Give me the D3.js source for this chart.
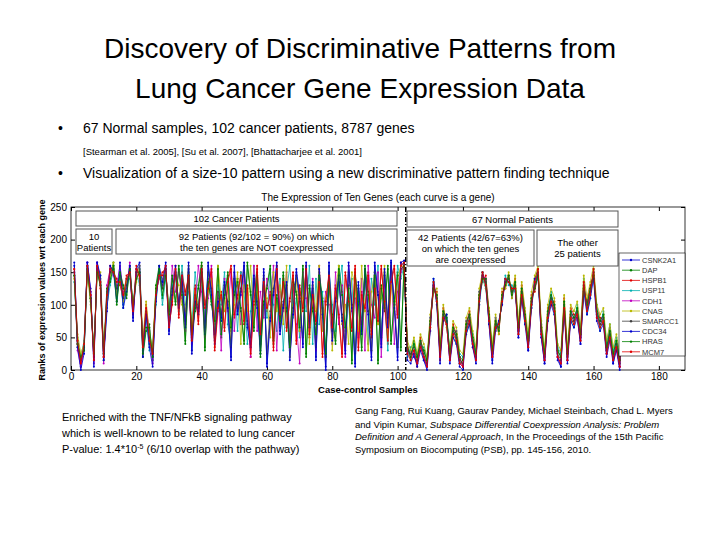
<!DOCTYPE html>
<html><head><meta charset="utf-8">
<script src="https://cdn.jsdelivr.net/npm/d3@7"></script>
<style>body{margin:0;background:#fff}svg{font-family:Arial,"Liberation Sans",sans-serif}</style>
</head><body><svg id="slide" width="720" height="540"></svg>
<script>
// gene names and colours (matlab default cycle)
let genes = ["CSNK2A1","DAP","HSPB1","USP11","CDH1","CNAS","SMARCC1","CDC34","HRAS","MCM7"];
let colors = ["#0000cc","#008000","#e00000","#00b0b0","#c000c0","#b8b800","#404040","#0000cc","#008000","#e00000"];
let xTicks = [0,20,40,60,80,100,120,140,160,180];
let yTicks = [0,50,100,150,200,250];

// ranks on cancer samples 1..102
let cancer1 = [160,45,5,40,165,120,15,165,140,25,95,150,160,120,140,100,130,155,80,150,160,30,90,40,20,110,150,130,160,60,120,150,100,140,70,160,30,110,90,150,60,160,120,45,110,80,130,100,20,150,90,120,160,70,40,140,100,30,150,10,80,120,160,60,100,130,20,90,150,110,40,160,70,130,20,150,90,5,160,50,110,140,80,30,160,100,10,130,60,150,90,20,160,120,40,150,70,165,100,20,160,165];
let cancer2 = [145,35,15,30,160,110,25,155,130,15,120,140,165,100,150,130,110,160,95,140,155,20,60,70,15,130,160,110,150,90,140,100,160,120,40,150,60,90,130,165,30,140,100,70,160,50,110,150,60,120,140,90,40,165,120,60,150,20,100,130,160,40,110,70,150,90,30,140,120,60,160,20,130,90,50,150,110,20,140,80,40,160,120,60,130,10,150,100,30,160,120,60,150,10,130,90,160,40,110,150,30,165];
let cancer3 = [155,40,10,35,150,115,20,160,125,20,110,160,150,140,130,110,145,150,85,160,140,40,100,50,30,120,140,150,155,70,100,160,80,150,120,140,50,130,70,160,100,130,150,30,90,120,60,140,160,80,110,150,70,130,20,100,160,50,140,90,120,30,160,80,140,60,110,150,40,130,90,160,50,120,70,140,20,100,150,60,130,80,20,150,110,60,160,30,120,90,150,50,130,70,160,100,40,140,160,80,165,150];
let cancer4 = [135,50,20,45,155,105,30,150,145,30,100,130,155,110,150,95,140,140,100,150,130,50,80,30,40,100,155,100,140,100,130,140,90,160,100,120,70,150,100,130,80,150,110,60,130,100,150,70,40,140,60,150,120,40,90,160,110,50,130,80,150,100,60,140,30,120,160,80,110,50,130,90,160,40,140,70,120,30,150,100,60,130,160,50,100,140,20,120,80,150,40,140,100,160,60,120,30,150,90,160,140,160];
let cancer5 = [150,30,5,30,165,120,10,165,130,10,130,155,145,130,160,120,125,165,90,145,150,25,95,60,10,115,145,125,150,80,160,120,150,110,60,140,40,100,160,120,50,110,160,80,120,30,140,90,150,60,130,70,150,100,20,160,60,120,80,140,100,160,30,120,90,150,50,130,70,10,150,110,60,140,30,160,80,120,100,40,150,70,130,20,160,90,110,50,140,30,160,100,80,150,20,130,60,160,40,120,150,160];
let cancer6 = [140,55,25,40,150,100,30,145,150,35,105,145,165,115,140,105,135,150,100,135,160,45,105,55,35,125,150,140,150,95,110,150,130,100,90,160,60,120,100,140,70,120,140,50,160,110,90,130,50,100,150,40,130,90,160,70,120,60,140,110,50,150,90,130,70,160,20,100,140,60,110,150,40,130,90,160,60,110,140,30,120,160,70,100,40,150,130,60,160,90,30,120,150,70,110,160,50,130,90,140,160,155];
let cancer7 = [150,40,15,35,160,110,20,160,135,20,115,150,155,125,145,110,130,155,90,150,150,35,90,50,25,115,150,125,155,75,125,145,105,135,75,155,45,115,95,150,65,150,125,55,120,85,130,105,35,140,95,125,150,75,50,140,105,40,145,25,90,125,150,65,105,130,35,95,145,105,50,155,75,125,35,145,95,20,150,60,110,135,85,40,150,100,25,125,70,145,90,30,150,115,50,145,80,160,100,35,155,160];
let cancer8 = [165,35,0,25,165,125,5,165,145,15,90,160,150,105,165,95,120,160,75,155,165,20,85,35,5,105,160,135,165,55,115,160,95,145,65,165,25,105,85,155,55,165,115,40,105,75,135,95,15,160,85,115,165,65,35,145,95,25,155,5,75,115,165,55,95,135,15,85,155,115,35,165,65,135,15,155,85,0,165,45,105,145,75,25,165,95,5,135,55,155,85,15,165,115,35,155,65,168,95,15,165,168];
let cancer9 = [145,40,20,30,155,110,25,150,130,25,125,135,160,105,150,125,115,155,100,140,150,25,65,65,20,125,155,115,145,85,145,105,155,115,45,145,55,95,125,160,35,135,105,75,155,55,115,145,65,115,135,95,45,160,115,65,145,25,105,125,155,45,115,75,145,95,35,135,115,65,155,25,125,95,55,145,105,25,135,85,45,155,115,65,125,15,145,105,35,155,115,65,145,15,125,95,155,45,105,145,35,160];
let cancer10 = [155,45,10,40,160,115,15,160,135,20,115,155,150,135,135,115,140,150,90,155,145,35,95,45,25,115,145,145,160,65,105,155,85,145,115,145,45,125,75,155,95,125,155,35,95,115,65,135,155,85,115,145,75,125,25,105,155,55,135,95,115,35,155,85,135,65,105,145,45,125,95,155,55,115,75,135,25,105,145,65,125,85,25,145,105,65,155,35,115,95,145,55,125,75,155,105,45,135,155,85,160,165];

// ranks on normal samples 103..169
let normal1 = [25,30,20,10,45,15,5,80,125,115,20,90,70,15,55,60,20,5,75,85,40,15,120,140,140,70,15,80,60,115,130,145,110,135,50,125,85,30,110,125,145,50,10,90,115,100,20,5,105,15,90,80,85,40,125,100,125,145,80,75,85,25,60,10,35,5,160];
let normal2 = [40,15,45,20,35,30,15,65,135,105,30,80,85,25,65,45,10,15,60,75,50,25,105,150,130,85,30,65,70,105,140,135,125,125,65,115,75,45,100,140,155,65,25,80,105,90,30,20,95,25,80,70,95,55,135,90,115,155,90,65,75,35,50,25,45,15,165];
let normal3 = [35,25,30,5,50,20,10,75,120,120,15,95,75,20,70,55,20,5,70,90,35,15,115,135,145,90,20,75,55,120,125,145,115,140,55,130,90,35,115,120,150,55,15,95,100,105,20,10,110,15,95,85,80,45,120,105,130,145,95,80,70,30,65,15,35,5,160];
let normal4 = [20,35,40,25,30,35,20,60,140,100,35,75,80,30,50,40,25,20,55,70,55,30,100,140,125,75,35,60,75,100,145,130,130,120,70,110,70,50,95,135,140,70,30,75,120,85,35,25,90,30,75,65,100,60,140,85,110,150,100,60,90,40,70,30,50,20,168];
let normal5 = [30,20,30,10,40,20,5,70,130,110,20,85,70,15,60,50,10,5,65,80,45,15,110,145,140,80,20,70,65,110,135,140,120,130,60,120,80,35,105,130,150,60,15,85,110,95,20,10,100,15,85,75,90,50,130,95,120,150,85,70,80,25,55,15,40,5,165];
let normal6 = [45,30,50,25,55,40,20,85,120,125,40,100,65,35,75,65,30,25,80,95,60,35,125,150,125,95,40,85,55,125,125,150,110,145,75,135,95,55,120,145,160,75,35,100,125,110,40,30,115,35,100,90,105,65,145,110,135,160,100,85,95,45,70,35,55,25,160];
let normal7 = [30,25,35,15,40,25,10,70,130,110,25,85,75,20,60,50,15,10,65,80,45,20,110,145,135,80,25,70,65,110,135,140,120,130,60,120,80,40,105,130,150,60,20,85,110,95,25,15,100,20,85,75,90,50,130,95,120,150,85,70,80,30,55,20,40,10,165];
let normal8 = [15,10,25,5,30,15,0,60,140,100,10,75,85,10,50,40,5,0,55,70,35,10,100,150,130,70,10,60,75,100,140,135,125,125,50,110,70,30,95,140,145,50,10,75,100,85,15,5,90,10,75,65,80,40,120,85,110,140,75,60,70,20,45,10,30,0,165];
let normal9 = [35,20,40,20,45,30,15,75,125,115,30,90,80,25,65,55,20,15,70,85,50,25,115,140,140,85,30,75,60,115,130,145,115,135,65,125,85,45,110,125,145,65,25,90,115,100,30,20,105,25,90,80,95,55,125,100,125,145,90,75,85,35,60,25,45,15,160];
let normal10 = [25,15,30,10,35,20,5,65,135,105,20,80,70,15,55,45,10,5,60,75,40,15,105,150,130,75,20,65,70,105,140,135,125,125,55,115,75,35,100,135,155,55,15,80,105,90,20,10,95,15,80,70,85,45,135,90,115,155,80,65,75,25,50,15,35,5,168];

let cancerAll = [cancer1,cancer2,cancer3,cancer4,cancer5,cancer6,cancer7,cancer8,cancer9,cancer10];
let normalAll = [normal1,normal2,normal3,normal4,normal5,normal6,normal7,normal8,normal9,normal10];

let svg = d3.select("#slide");

// slide text
svg.append("text").attr("x",360).attr("y",58).attr("text-anchor","middle").style("font-size","28px")
  .text("Discovery of Discriminative Patterns from");
svg.append("text").attr("x",360).attr("y",98).attr("text-anchor","middle").style("font-size","28px")
  .text("Lung Cancer Gene Expression Data");
svg.append("text").attr("x",58).attr("y",133).style("font-size","14px").text("•");
svg.append("text").attr("x",83).attr("y",133).style("font-size","14px").text("67 Normal samples, 102 cancer patients, 8787 genes");
svg.append("text").attr("x",83).attr("y",155).style("font-size","9.5px")
  .text("[Stearman et al. 2005], [Su et al. 2007], [Bhattacharjee et al. 2001]");
svg.append("text").attr("x",58).attr("y",178).style("font-size","14px").text("•");
svg.append("text").attr("x",83).attr("y",178).style("font-size","14px")
  .text("Visualization of a size-10 pattern using a new discriminative pattern finding technique");

// chart
let x = d3.scaleLinear().domain([0,188]).range([71,685]);
let y = d3.scaleLinear().domain([0,250]).range([370,207]);

svg.append("rect").attr("x",71).attr("y",207).attr("width",614).attr("height",163)
  .attr("fill","#fff").attr("stroke","#000").attr("stroke-width",0.8);

let gx = svg.append("g").attr("transform","translate(0,370)")
  .call(d3.axisBottom(x).tickValues(xTicks).tickSize(-4).tickPadding(3));
let gxt = svg.append("g").attr("transform","translate(0,207)")
  .call(d3.axisTop(x).tickValues(xTicks).tickSize(-4).tickFormat(""));
let gy = svg.append("g").attr("transform","translate(71,0)")
  .call(d3.axisLeft(y).tickValues(yTicks).tickSize(-4).tickPadding(4));
let gyr = svg.append("g").attr("transform","translate(685,0)")
  .call(d3.axisRight(y).tickValues(yTicks).tickSize(-4).tickFormat(""));
[gx,gxt,gy,gyr].forEach(g => { g.select(".domain").remove(); g.selectAll("text").style("font-size","10px").attr("font-family","Arial"); });

svg.append("text").attr("x",378).attr("y",201).attr("text-anchor","middle").style("font-size","10px")
  .text("The Expression of Ten Genes (each curve is a gene)");
svg.append("text").attr("x",368).attr("y",393).attr("text-anchor","middle").style("font-size","9.5px").style("font-weight","bold")
  .text("Case-control Samples");
svg.append("text").attr("transform","translate(45,290) rotate(-90)").attr("text-anchor","middle")
  .style("font-size","9px").style("font-weight","bold").text("Ranks of expression values wrt each gene");

let line = d3.line().x(d => x(d[0])).y(d => y(d[1]));
let lines = svg.append("g");
genes.forEach((g,i) => {
  let pts = cancerAll[i].map((v,j) => [j+1,v]).concat(normalAll[i].map((v,j) => [103+j,v]));
  lines.append("path").attr("d",line(pts)).attr("fill","none").attr("stroke",colors[i]).attr("stroke-width",0.8);
  lines.selectAll(null).data(pts).enter().append("circle")
    .attr("cx",d => x(d[0])).attr("cy",d => y(d[1])).attr("r",1).attr("fill",colors[i]);
});

// boundary between cancer and normal
svg.append("line").attr("x1",x(102.5)).attr("x2",x(102.5)).attr("y1",207).attr("y2",370)
  .attr("stroke","#000").attr("stroke-width",1.5).attr("stroke-dasharray","5,2,1,2");

// annotation boxes
function box(x0,y0,w,h,lines_){
  svg.append("rect").attr("x",x0).attr("y",y0).attr("width",w).attr("height",h)
    .attr("fill","#fff").attr("stroke","#555").attr("stroke-width",1);
  let n = lines_.length;
  lines_.forEach((t,k) => {
    svg.append("text").attr("x",x0+w/2).attr("y",y0+h/2+(k-(n-1)/2)*11+3.5).attr("text-anchor","middle")
      .style("font-size","9.5px").text(t);
  });
}
box(76,211,321,15,["102 Cancer Patients"]);
box(76,229,36,25,["10","Patients"]);
box(116,229,281,25,["92 Patients (92/102 = 90%) on which","the ten genes are NOT coexpressed"]);
box(407,211,211,16,["67 Normal Patients"]);
box(407,230,127,36,["42 Patients (42/67=63%)","on which the ten genes","are coexpressed"]);
box(537,230,81,36,["The other","25 patients"]);

// legend
let lg = svg.append("g");
lg.append("rect").attr("x",619).attr("y",253).attr("width",66).attr("height",103)
  .attr("fill","#fff").attr("stroke","#000").attr("stroke-width",0.6);
genes.forEach((g,i) => {
  let ly = 260 + i*10.2;
  lg.append("line").attr("x1",622).attr("x2",640).attr("y1",ly).attr("y2",ly).attr("stroke",colors[i]).attr("stroke-width",0.8);
  lg.append("circle").attr("cx",631).attr("cy",ly).attr("r",1.2).attr("fill",colors[i]);
  lg.append("text").attr("x",642).attr("y",ly+2.7).style("font-size","7.5px").attr("fill","#333").text(g);
});

// bottom texts
let left = ["Enriched with the TNF/NFkB signaling pathway","which is well-known to be related to lung cancer"];
left.forEach((t,k) => svg.append("text").attr("x",62).attr("y",421+k*16).style("font-size","11px").text(t));
let pv = svg.append("text").attr("x",62).attr("y",453).style("font-size","11px");
pv.append("tspan").text("P-value: 1.4*10");
pv.append("tspan").attr("dy",-4).style("font-size","7px").text("-5");
pv.append("tspan").attr("dy",4).text(" (6/10 overlap with the pathway)");

let r = svg.append("g").style("font-size","9.5px");
r.append("text").attr("x",355).attr("y",414).text("Gang Fang, Rui Kuang, Gaurav Pandey, Michael Steinbach, Chad L. Myers");
let r2 = r.append("text").attr("x",355).attr("y",428);
r2.append("tspan").text("and Vipin Kumar, ");
r2.append("tspan").style("font-style","italic").text("Subspace Differential Coexpression  Analysis: Problem");
let r3 = r.append("text").attr("x",355).attr("y",440);
r3.append("tspan").style("font-style","italic").text("Definition and A General Approach");
r3.append("tspan").text(", In the Proceedings of the 15th Pacific");
r.append("text").attr("x",355).attr("y",453).text("Symposium on Biocomputing (PSB), pp. 145-156, 2010.");
</script></body></html>
